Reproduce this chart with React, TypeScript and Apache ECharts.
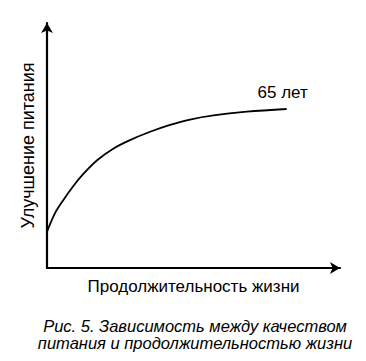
import React, { useEffect, useRef } from "react";
import * as echarts from "echarts";

// Curve: life expectancy (x, 0..100) vs nutrition improvement (y, 0..100)
const xValues = [0, 2.7, 5.6, 9.0, 12.4, 17.0, 22.6, 28.3, 35.2, 42.0, 48.8, 56.8, 68.2, 81.8];
const yValues = [14.8, 22.3, 27.8, 33.5, 38.4, 43.9, 48.7, 52.2, 55.6, 58.4, 60.6, 62.3, 63.8, 64.9];
const endLabelText = "65 лет";
const xAxisName = "Продолжительность жизни";
const yAxisName = "Улучшение питания";
const captionLines = ["Рис. 5. Зависимость между качеством", "питания и продолжительностью жизни"];

const FONT = "'Liberation Sans', Arial, sans-serif";

export default function App() {
  const ref = useRef<HTMLDivElement>(null);
  useEffect(() => {
    if (!ref.current) return;
    const chart = echarts.init(ref.current, undefined, { renderer: "svg" });
    const data = xValues.map((x, i) => [x, yValues[i]]);
    chart.setOption({
      animation: false,
      backgroundColor: "#ffffff",
      grid: { left: 47, right: 26, top: 23, bottom: 93 },
      xAxis: {
        type: "value",
        min: 0,
        max: 100,
        name: xAxisName,
        nameLocation: "middle",
        nameGap: 10,
        nameTextStyle: { color: "#000", fontSize: 17, fontFamily: FONT },
        axisLine: {
          show: true,
          symbol: ["none", "arrow"],
          symbolSize: [9, 10],
          lineStyle: { color: "#000", width: 2.2 },
        },
        axisTick: { show: false },
        axisLabel: { show: false },
        splitLine: { show: false },
      },
      yAxis: {
        type: "value",
        min: 0,
        max: 100,
        name: yAxisName,
        nameLocation: "middle",
        nameGap: 10,
        nameRotate: 90,
        nameTextStyle: { color: "#000", fontSize: 18, fontFamily: FONT },
        axisLine: {
          show: true,
          symbol: ["none", "arrow"],
          symbolSize: [9, 10],
          lineStyle: { color: "#000", width: 2.2 },
        },
        axisTick: { show: false },
        axisLabel: { show: false },
        splitLine: { show: false },
      },
      series: [
        {
          type: "line",
          data,
          smooth: 0.35,
          symbol: "none",
          lineStyle: { color: "#000", width: 1.8 },
          endLabel: {
            show: true,
            formatter: endLabelText,
            color: "#000",
            fontSize: 17,
            fontFamily: FONT,
            align: "center",
            offset: [-12, -16],
          },
        },
      ],
      graphic: captionLines.map((t, i) => ({
        type: "text",
        x: 195,
        y: 326 + i * 17,
        style: {
          text: t,
          fill: "#000",
          font: `italic 16.5px ${FONT}`,
          textAlign: "center",
          textVerticalAlign: "middle",
        },
      })),
    });
    return () => chart.dispose();
  }, []);
  return (
    <div
      ref={ref}
      style={{ position: "absolute", left: 0, top: 0, width: 366, height: 361 }}
    />
  );
}
